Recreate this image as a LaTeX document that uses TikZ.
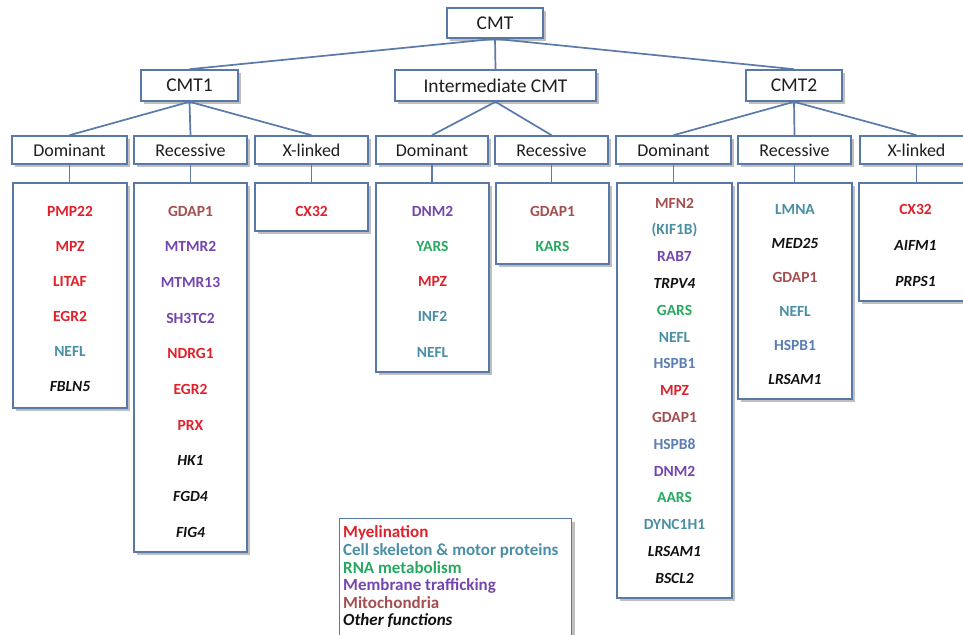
\documentclass[tikz,border=0pt]{standalone}
\usepackage{fontspec}
\setmainfont{Carlito}
\usetikzlibrary{shadows}

\definecolor{frame}{HTML}{5878A8}
\definecolor{wire}{HTML}{5A7AAA}
\definecolor{mye}{HTML}{E0202A}
\definecolor{csk}{HTML}{4A8FA6}
\definecolor{hsp}{HTML}{5B7DB5}
\definecolor{rna}{HTML}{28A860}
\definecolor{mem}{HTML}{7446AE}
\definecolor{mit}{HTML}{A44E50}
\definecolor{oth}{HTML}{111111}
\definecolor{ink}{HTML}{1E1E1E}

% one column of gene names: prefix, x, first y, spacing, colour/name list
\newcommand\genecol[5]{%
  \foreach \c/\t [count=\i] in {#5}
    \node[gene,text=\c] (#1-\i) at (#2,{#3+(\i-1)*#4}) {\t};}

\begin{document}
\begin{tikzpicture}[x=1pt,y=-1pt,
  box/.style={draw=frame, line width=1.6pt, fill=white, rectangle, inner sep=0pt,
    drop shadow={shadow xshift=2.8pt, shadow yshift=-2.8pt, opacity=0.5}},
  lvltwo/.style={box, minimum height=31pt, text=ink, font=\fontsize{19.5}{21}\selectfont},
  lvlthree/.style={box, minimum height=28pt, text=ink, font=\fontsize{18}{20}\selectfont},
  genebox/.style={box, line width=1.8pt},
  gene/.style={inner sep=0pt, font=\bfseries\fontsize{15.5}{17}\selectfont},
  legendtext/.style={anchor=west, inner sep=0pt, font=\bfseries\fontsize{17}{17}\selectfont},
  link/.style={draw=wire, line width=1.7pt}]

\clip (0,0) rectangle (963,634);
\fill[white] (0,0) rectangle (963,634);

% hierarchy headers
\node[lvltwo, minimum width=96pt, minimum height=30pt] (cmt) at (495,23) {CMT};
\node[lvltwo, minimum width=97pt] (cmt1) at (189.5,85.5) {CMT1};
\node[lvltwo, minimum width=201pt] (icmt) at (495.5,85.5) {Intermediate CMT};
\node[lvltwo, minimum width=96pt] (cmt2) at (794,85.5) {CMT2};

\node[lvlthree, minimum width=115pt] (d1) at (69.5,150) {Dominant};
\node[lvlthree, minimum width=113pt] (r1) at (190.5,150) {Recessive};
\node[lvlthree, minimum width=113pt] (x1) at (311.5,150) {X-linked};
\node[lvlthree, minimum width=112pt] (di) at (432,150) {Dominant};
\node[lvlthree, minimum width=113pt] (ri) at (551.5,150) {Recessive};
\node[lvlthree, minimum width=115pt] (d2) at (673.5,150) {Dominant};
\node[lvlthree, minimum width=113pt] (r2) at (794.5,150) {Recessive};
\node[lvlthree, minimum width=113pt] (x2) at (916.5,150) {X-linked};

% gene boxes
\node[genebox, minimum width=114pt, minimum height=225pt] (bd1) at (70,295.5) {};
\node[genebox, minimum width=113pt, minimum height=369pt] (br1) at (190.5,367.5) {};
\node[genebox, minimum width=113pt, minimum height=48pt] (bx1) at (311.5,207) {};
\node[genebox, minimum width=113pt, minimum height=189pt] (bdi) at (432.5,277.5) {};
\node[genebox, minimum width=113pt, minimum height=81pt] (bri) at (552.5,223.5) {};
\node[genebox, minimum width=115pt, minimum height=415pt] (bd2) at (674.5,390.5) {};
\node[genebox, minimum width=114pt, minimum height=216pt] (br2) at (795,291) {};
\node[genebox, minimum width=113pt, minimum height=118pt] (bx2) at (915.5,242) {};

% connectors
\path[link] (cmt.south) -- (cmt1.north);
\path[link] (cmt.south) -- (icmt.north);
\path[link] (cmt.south) -- (cmt2.north);
\path[link] (cmt1.south) -- (d1.north);
\path[link] (cmt1.south) -- (r1.north);
\path[link] (cmt1.south) -- (x1.north);
\path[link] (icmt.south) -- (di.north);
\path[link] (icmt.south) -- (ri.north);
\path[link] (cmt2.south) -- (d2.north);
\path[link] (cmt2.south) -- (r2.north);
\path[link] (cmt2.south) -- (x2.north);
\foreach \h/\b in {d1/bd1, r1/br1, x1/bx1, di/bdi, ri/bri, d2/bd2, r2/br2, x2/bx2}
  \path[link] (\h.south) -- (\h.south |- \b.north);

% gene names
\genecol{g1}{70}{211}{35.2}{mye/PMP22, mye/MPZ, mye/LITAF, mye/EGR2, csk/NEFL, oth/\textit{FBLN5}}
\genecol{g2}{190.5}{211}{35.7}{mit/GDAP1, mem/MTMR2, mem/MTMR13, mem/SH3TC2, mye/NDRG1, mye/EGR2, mye/PRX, oth/\textit{HK1}, oth/\textit{FGD4}, oth/\textit{FIG4}}
\genecol{g3}{311.5}{211}{35}{mye/CX32}
\genecol{g4}{432.5}{211}{35.3}{mem/DNM2, rna/YARS, mye/MPZ, csk/INF2, csk/NEFL}
\genecol{g5}{552.5}{211}{35}{mit/GDAP1, rna/KARS}
\genecol{g6}{674.5}{203}{26.8}{mit/MFN2, csk/(KIF1B), mem/RAB7, oth/\textit{TRPV4}, rna/GARS, csk/NEFL, hsp/HSPB1, mye/MPZ, mit/GDAP1, hsp/HSPB8, mem/DNM2, rna/AARS, csk/DYNC1H1, oth/\textit{LRSAM1}, oth/\textit{BSCL2}}
\genecol{g7}{795}{209}{34}{csk/LMNA, oth/\textit{MED25}, mit/GDAP1, csk/NEFL, hsp/HSPB1, oth/\textit{LRSAM1}}
\genecol{g8}{915.5}{209}{36}{mye/CX32, oth/\textit{AIFM1}, oth/\textit{PRPS1}}

% legend
\node[genebox, line width=1.4pt, minimum width=232pt, minimum height=140pt, anchor=north west] (legend) at (339,518) {};
\node[legendtext, text=mye] (l1) at (343,533) {Myelination};
\node[legendtext, text=csk] (l2) at (343,551) {Cell skeleton \& motor proteins};
\node[legendtext, text=rna] (l3) at (343,568) {RNA metabolism};
\node[legendtext, text=mem] (l4) at (343,586) {Membrane trafficking};
\node[legendtext, text=mit] (l5) at (343,603) {Mitochondria};
\node[legendtext, text=oth] (l6) at (343,621) {\textit{Other functions}};
\end{tikzpicture}
\end{document}
